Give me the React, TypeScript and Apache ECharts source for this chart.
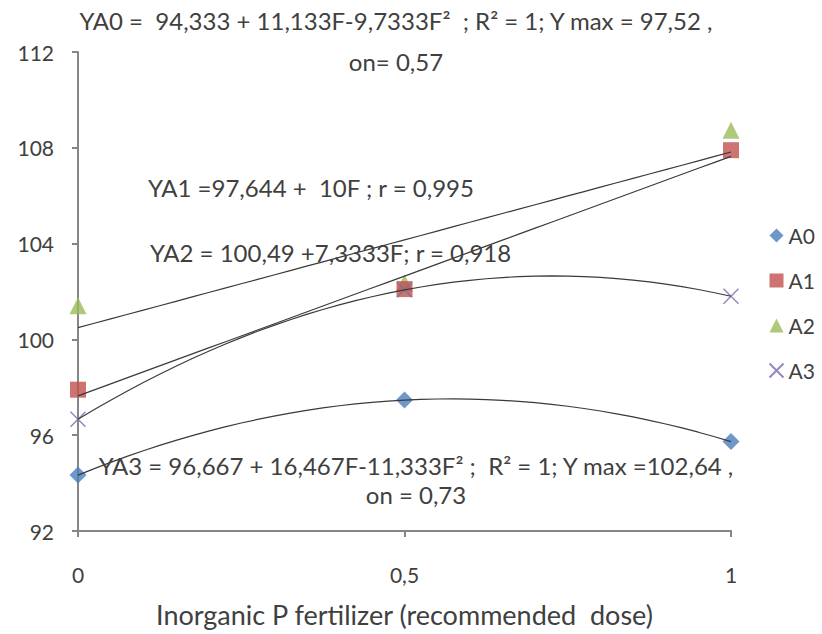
import React, { useEffect, useRef } from "react";
import * as echarts from "echarts";

// Doses of inorganic P fertilizer (fraction of the recommended dose)
const doses = [0, 0.5, 1];

// Observed yields per treatment
const a0Values = [94.333, 97.467, 95.733];
const a1Values = [97.9, 102.1, 107.9];
const a2Values = [101.4, 102.35, 108.73];
const a3Values = [96.667, 102.07, 101.8];

// Fitted trend coefficients [c0, c1, c2] for y = c0 + c1*F + c2*F^2
const a0Fit = [94.333, 11.133, -9.7333];
const a1Fit = [97.644, 10, 0];
const a2Fit = [100.49, 7.3333, 0];
const a3Fit = [96.667, 16.467, -11.333];

const seriesNames = ["A0", "A1", "A2", "A3"];
const yTicks = [92, 96, 100, 104, 108, 112];

const FONT = "Lato, 'Open Sans', sans-serif";
const TEXT = "#404040";
const CROSS = "path://M0,0L10,10M10,0L0,10";

function fitCurve(c: number[]) {
  const pts: number[][] = [];
  for (let i = 0; i <= 40; i++) {
    const f = i / 40;
    pts.push([f, c[0] + c[1] * f + c[2] * f * f]);
  }
  return pts;
}

function pairs(vals: number[]) {
  return doses.map((d, i) => [d, vals[i]]);
}

export default function App() {
  const ref = useRef<HTMLDivElement>(null);

  useEffect(() => {
    if (!ref.current) return;
    const chart = echarts.init(ref.current, null, { renderer: "svg" });

    const trend = (c: number[]) => ({
      type: "line",
      data: fitCurve(c),
      showSymbol: false,
      silent: true,
      lineStyle: { color: "#3a3a3a", width: 1.2 },
      z: 5,
    });

    const eqStyle = { fill: TEXT, font: `24px ${FONT}` };

    chart.setOption({
      animation: false,
      backgroundColor: "#ffffff",
      grid: { left: 78, right: 91, top: 52, bottom: 103 },
      xAxis: {
        type: "value",
        min: 0,
        max: 1,
        interval: 0.5,
        name: "Inorganic P fertilizer (recommended  dose)",
        nameLocation: "middle",
        nameGap: 70,
        nameTextStyle: { color: TEXT, fontSize: 27, fontFamily: FONT },
        axisLine: { lineStyle: { color: "#868686", width: 2 } },
        axisTick: { show: true, length: 6, lineStyle: { color: "#868686", width: 2 } },
        axisLabel: {
          color: TEXT,
          fontSize: 21,
          fontFamily: FONT,
          margin: 33,
          formatter: (v: number) => String(v).replace(".", ","),
        },
        splitLine: { show: false },
      },
      yAxis: {
        type: "value",
        min: yTicks[0],
        max: yTicks[yTicks.length - 1],
        interval: 4,
        axisLine: { show: true, lineStyle: { color: "#868686", width: 2 } },
        axisTick: { show: true, length: 6, lineStyle: { color: "#868686", width: 2 } },
        axisLabel: { color: TEXT, fontSize: 21, fontFamily: FONT, margin: 24 },
        splitLine: { show: false },
      },
      legend: {
        orient: "vertical",
        left: 762,
        top: 220,
        itemGap: 24,
        itemWidth: 14,
        itemHeight: 14,
        textStyle: { color: TEXT, fontSize: 21, fontFamily: FONT },
        data: [
          { name: seriesNames[0], icon: "diamond" },
          { name: seriesNames[1], icon: "rect" },
          { name: seriesNames[2], icon: "triangle" },
          { name: seriesNames[3], icon: CROSS },
        ],
      },
      series: [
        {
          name: seriesNames[0],
          type: "scatter",
          data: pairs(a0Values),
          symbol: "diamond",
          symbolSize: 17,
          itemStyle: { color: "#4a7ebb" },
          z: 3,
        },
        {
          name: seriesNames[1],
          type: "scatter",
          data: pairs(a1Values),
          symbol: "rect",
          symbolSize: 16,
          itemStyle: { color: "#c0504d" },
          z: 3,
        },
        {
          name: seriesNames[2],
          type: "scatter",
          data: pairs(a2Values),
          symbol: "triangle",
          symbolSize: 17,
          itemStyle: { color: "#9bbb59" },
          z: 2,
        },
        {
          name: seriesNames[3],
          type: "scatter",
          data: pairs(a3Values),
          symbol: CROSS,
          symbolSize: 15,
          itemStyle: { color: "none", borderColor: "#7d6aa8", borderWidth: 1.5 },
          z: 3,
        },
        trend(a0Fit),
        trend(a1Fit),
        trend(a2Fit),
        trend(a3Fit),
      ],
      graphic: [
        {
          type: "text",
          x: 396,
          y: 0,
          style: {
            ...eqStyle,
            text: "YA0 =  94,333 + 11,133F-9,7333F\u00b2  ; R\u00b2 = 1; Y max = 97,52 ,\non= 0,57",
            align: "center",
            lineHeight: 41,
          },
          z: 10,
        },
        {
          type: "text",
          x: 148,
          y: 175,
          style: { ...eqStyle, text: "YA1 =97,644 +  10F ; r = 0,995" },
          z: 10,
        },
        {
          type: "text",
          x: 150,
          y: 240,
          style: { ...eqStyle, text: "YA2 = 100,49 +7,3333F; r = 0,918" },
          z: 10,
        },
        {
          type: "text",
          x: 416,
          y: 451,
          style: {
            ...eqStyle,
            text: "YA3 = 96,667 + 16,467F-11,333F\u00b2 ;  R\u00b2 = 1; Y max =102,64 ,\non = 0,73",
            align: "center",
            lineHeight: 29,
          },
          z: 10,
        },
      ],
    });

    return () => chart.dispose();
  }, []);

  return (
    <div
      ref={ref}
      style={{ position: "fixed", left: 0, top: 0, width: 822, height: 634 }}
    />
  );
}
